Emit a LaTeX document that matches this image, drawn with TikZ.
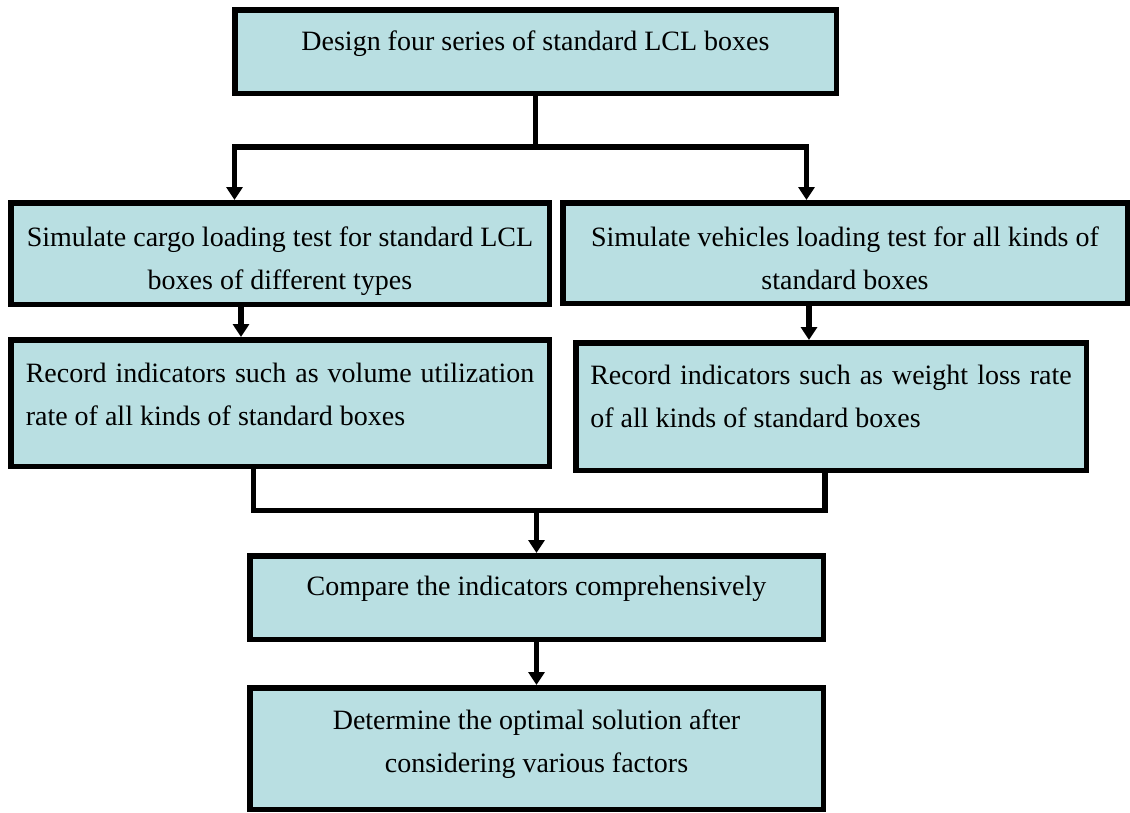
\documentclass[tikz,border=0pt]{standalone}
\usepackage{fontspec}
\setmainfont{Liberation Serif}
\usetikzlibrary{arrows.meta}
\definecolor{boxfill}{RGB}{185,223,226}
\newcommand{\flowtext}[5]{\parbox[c][#2][t]{#1}{#4\rule{0pt}{#3}#5}}
\tikzset{
  flowbox/.style={draw=black, fill=boxfill, line width=5.5pt, inner ysep=0pt, inner xsep=#1,
    font=\fontsize{28}{43}\selectfont},
  flowbox/.default=10pt,
  link/.style={line width=5.5pt, draw=black, line join=miter},
  arrowlink/.style={link, -{Triangle[width=16pt,length=13pt]}},
  twoarrow/.style={link, {Triangle[width=16pt,length=13pt]}-{Triangle[width=16pt,length=13pt]}}
}
\begin{document}
\begin{tikzpicture}[x=1pt, y=-1pt]
\path[use as bounding box, fill=white] (0,0) rectangle (1130,812);

\node[flowbox] (design) at (535.5,51.5)
  {\flowtext{581.5pt}{83.5pt}{40.25pt}{\centering}{Design four series of standard LCL boxes}};
\node[flowbox] (left2) at (280,253.5)
  {\flowtext{518.5pt}{101.5pt}{43.25pt}{\centering}{Simulate cargo loading test for standard LCL\\ boxes of different types}};
\node[flowbox] (right2) at (845,253)
  {\flowtext{544.5pt}{100.5pt}{43.25pt}{\centering}{Simulate vehicles loading test for all kinds of\\ standard boxes}};
\node[flowbox=15pt] (left3) at (280,403)
  {\flowtext{508.5pt}{126.5pt}{42.25pt}{}{Record indicators such as volume utilization\linebreak rate of all kinds of standard boxes}};
\node[flowbox=14.5pt] (right3) at (831,406.5)
  {\flowtext{481.5pt}{127.5pt}{41.25pt}{}{Record indicators such as weight loss rate\linebreak of all kinds of standard boxes}};
\node[flowbox] (compare) at (536.5,597.5)
  {\flowtext{553.5pt}{83.5pt}{39.25pt}{\centering}{Compare the indicators comprehensively}};
\node[flowbox] (determine) at (536.5,748.5)
  {\flowtext{553.5pt}{121.5pt}{41.25pt}{\centering}{Determine the optimal solution after\\ considering various factors}};

\coordinate (sL) at (234.5,147);
\coordinate (sR) at (806.5,147);
\coordinate (mL) at (253.5,510.5);
\coordinate (mR) at (825,510.5);

\draw[link] (design.south) -- (design.south |- sL);
\draw[twoarrow] (sL |- left2.north) -- (sL) -- (sR) -- (sR |- right2.north);
\draw[arrowlink] ([xshift=-39pt]left2.south) -- ([xshift=-39pt]left2.south |- left3.north);
\draw[arrowlink] ([xshift=-36pt]right2.south) -- ([xshift=-36pt]right2.south |- right3.north);
\draw[link] (left3.south -| mL) -- (mL) -- (mR) -- (right3.south -| mR);
\draw[arrowlink] (compare.north |- mL) -- (compare.north);
\draw[arrowlink] (compare.south) -- (determine.north);
\end{tikzpicture}
\end{document}
